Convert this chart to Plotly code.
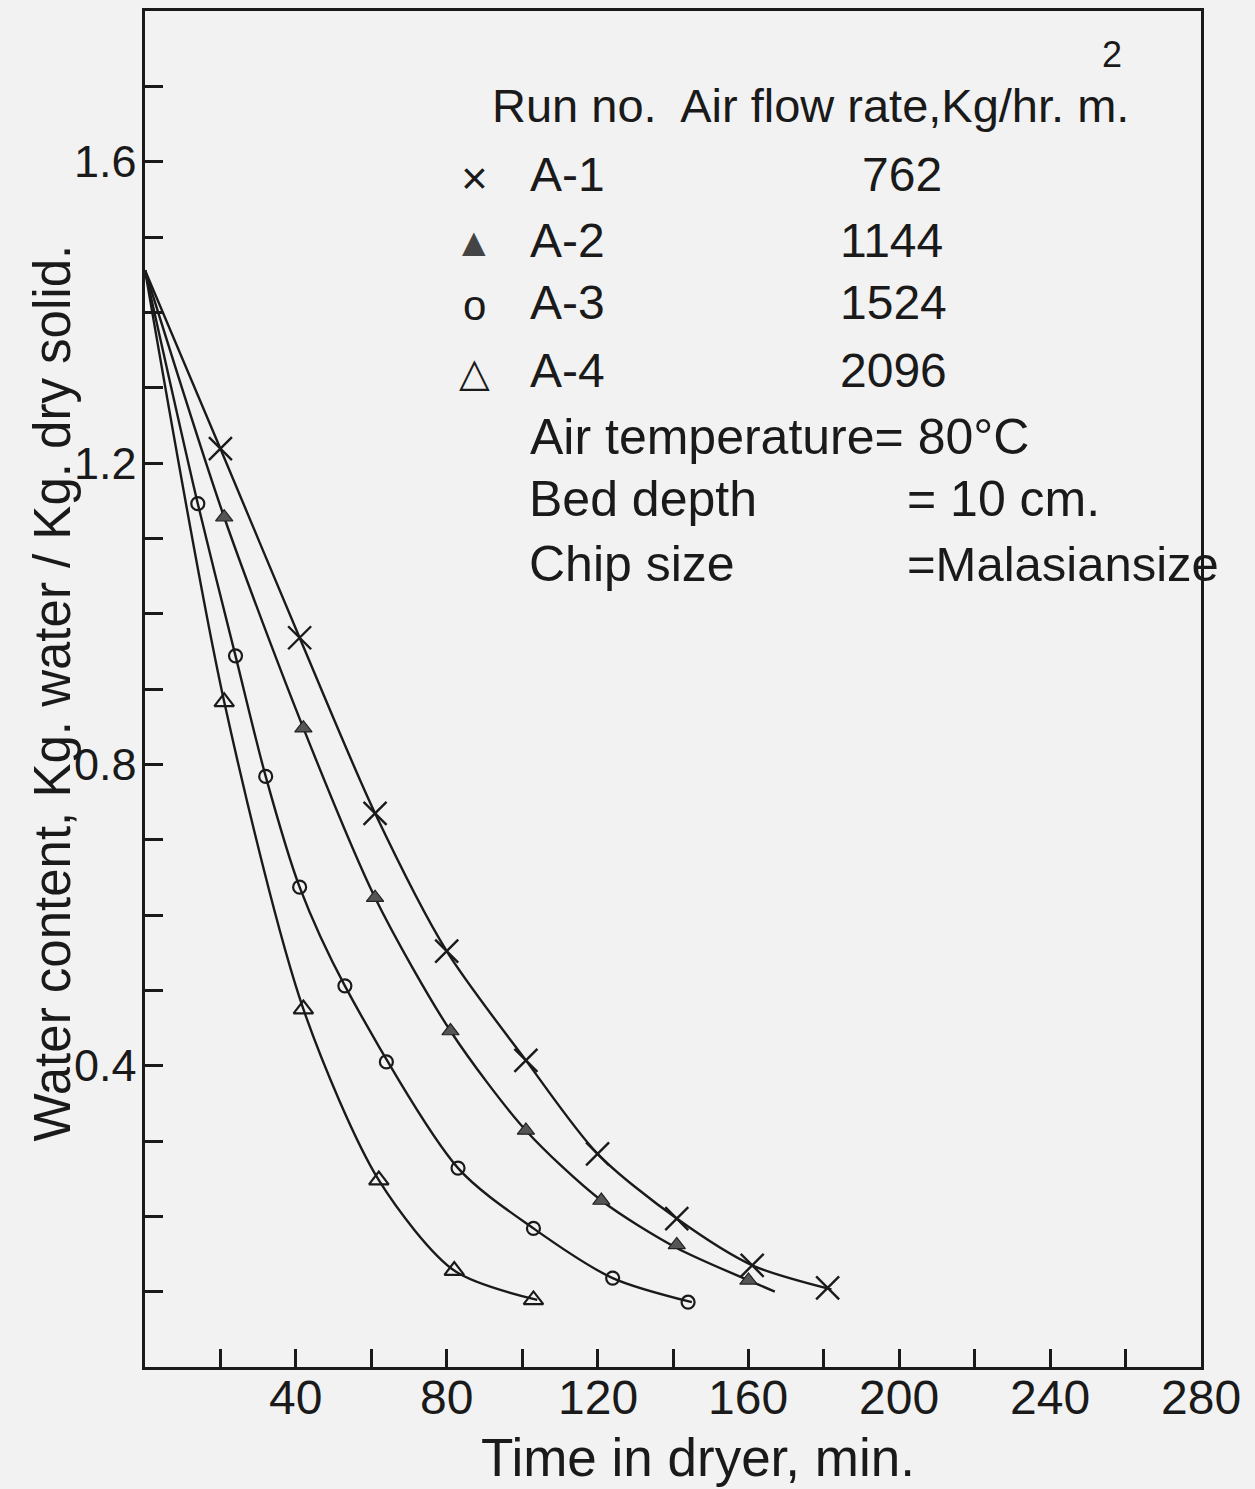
import plotly.graph_objects as go

# ---------------- data ----------------
# measured points (time in min, water content kg water / kg dry solid)
a1_t = [20, 41, 61, 80, 101, 120, 141, 161, 181]
a1_w = [1.219, 0.968, 0.735, 0.552, 0.407, 0.283, 0.197, 0.135, 0.105]

a2_t = [21, 42, 61, 81, 101, 121, 141, 160]
a2_w = [1.128, 0.848, 0.623, 0.446, 0.314, 0.221, 0.162, 0.115]

a3_t = [14, 24, 32, 41, 53, 64, 83, 103, 124, 144]
a3_w = [1.146, 0.944, 0.784, 0.637, 0.506, 0.405, 0.264, 0.184, 0.118, 0.086]

a4_t = [21, 42, 62, 82, 103]
a4_w = [0.883, 0.475, 0.248, 0.128, 0.089]

# drawn (fitted) curves
c1_t = [0, 20, 41, 61, 80, 101, 120, 141, 161, 182]
c1_w = [1.456, 1.219, 0.968, 0.735, 0.552, 0.407, 0.283, 0.197, 0.135, 0.103]

c2_t = [0, 21, 42, 61, 81, 101, 121, 141, 161, 167]
c2_w = [1.456, 1.128, 0.848, 0.623, 0.446, 0.314, 0.221, 0.158, 0.113, 0.100]

c3_t = [0, 14, 24, 32, 41, 53, 83, 103, 124, 145]
c3_w = [1.456, 1.146, 0.944, 0.784, 0.637, 0.506, 0.264, 0.184, 0.118, 0.086]

c4_t = [0, 21, 42, 62, 82, 104]
c4_w = [1.456, 0.883, 0.475, 0.248, 0.128, 0.089]

x_ticks = [40, 80, 120, 160, 200, 240, 280]
x_tick_text = ["40", "80", "120", "160", "200", "240", "280"]
y_ticks = [0.4, 0.8, 1.2, 1.6]
y_tick_text = ["0.4", "0.8", "1.2", "1.6"]

runs = ["A-1", "A-2", "A-3", "A-4"]
flow_rates = ["762", "1144", "1524", "2096"]

# ---------------- figure ----------------
W, H = 1255, 1489
L, R, T, B = 145, 54, 8, 122
PW, PH = W - L - R, H - T - B
INK = "#1a1a1a"
FONT = "Liberation Sans"
BG = "#f2f2f2"


def px(x):
    return (x - L) / PW


def py(y):
    return (H - B - y) / PH


fig = go.Figure()

line_style = dict(color=INK, width=2.4, shape="spline", smoothing=0.8)
for ct, cw in [(c1_t, c1_w), (c2_t, c2_w), (c3_t, c3_w), (c4_t, c4_w)]:
    fig.add_trace(go.Scatter(x=ct, y=cw, mode="lines", line=line_style,
                             hoverinfo="skip", showlegend=False))

fig.add_trace(go.Scatter(x=a1_t, y=a1_w, mode="markers", name=runs[0],
                         marker=dict(symbol="x-thin", size=23,
                                     line=dict(color=INK, width=2.4)),
                         showlegend=False))
fig.add_trace(go.Scatter(x=a2_t, y=a2_w, mode="markers", name=runs[1],
                         marker=dict(symbol="triangle-up", size=15, color="#555555",
                                     line=dict(color="#222222", width=1.2)),
                         showlegend=False))
fig.add_trace(go.Scatter(x=a3_t, y=a3_w, mode="markers", name=runs[2],
                         marker=dict(symbol="circle-open", size=13,
                                     line=dict(color=INK, width=2.2), color=INK),
                         showlegend=False))
fig.add_trace(go.Scatter(x=a4_t, y=a4_w, mode="markers", name=runs[3],
                         marker=dict(symbol="triangle-up-open", size=17,
                                     line=dict(color=INK, width=2.2), color=INK),
                         showlegend=False))

ann = []


def text(s, x, y, size=48, xanchor="left", angle=0, color=INK):
    ann.append(dict(text=s, x=px(x), y=py(y), xref="paper", yref="paper",
                    xanchor=xanchor, yanchor="middle", showarrow=False,
                    textangle=angle, font=dict(family=FONT, size=size, color=color)))


# legend block (text inside plot)
text("Run no.  Air flow rate,Kg/hr. m.", 490, 103, size=47)
text("2", 1112, 52, size=36, xanchor="center")
sym_y = [175, 240, 303, 370]
row_y = [172, 238, 300, 368]
syms = ["×", "▲", "o", "△"]
sym_sizes = [46, 40, 42, 40]
sym_cols = [INK, "#444444", INK, INK]
num_x = [860, 838, 838, 838]
for i in range(4):
    text(syms[i], 474, sym_y[i], size=sym_sizes[i], xanchor="center", color=sym_cols[i])
    text(runs[i], 528, row_y[i])
    text(flow_rates[i], num_x[i], row_y[i])
text("Air temperature= 80°C", 528, 435, size=50)
text("Bed depth", 527, 497, size=50)
text("= 10 cm.", 905, 497, size=50)
text("Chip size", 527, 562, size=50)
text("=Malasiansize", 905, 562, size=49)

# tick labels placed on the axes' own scales
for v, s in zip(x_ticks, x_tick_text):
    ann.append(dict(text=s, x=v, y=py(1398), xref="x", yref="paper",
                    xanchor="center", yanchor="middle", showarrow=False,
                    font=dict(family=FONT, size=48, color=INK)))
for v, s in zip(y_ticks, y_tick_text):
    ann.append(dict(text=s, x=px(139), y=v, xref="paper", yref="y",
                    xanchor="right", yanchor="middle", showarrow=False,
                    font=dict(family=FONT, size=45, color=INK)))

# axis titles
text("Time in dryer, min.", 698, 1458, size=53, xanchor="center")
ann.append(dict(text="Water content, Kg. water / Kg. dry solid.", x=px(52), y=py(692),
                xref="paper", yref="paper", xanchor="center", yanchor="middle",
                showarrow=False, textangle=-90,
                font=dict(family=FONT, size=51, color=INK)))

axis_common = dict(showline=True, mirror=True, linecolor=INK, linewidth=3,
                   showgrid=False, zeroline=False, ticks="inside", ticklen=18,
                   tickwidth=2.5, tickcolor=INK, showticklabels=False)

fig.update_layout(
    width=W, height=H,
    margin=dict(l=L, r=R, t=T, b=B),
    paper_bgcolor=BG, plot_bgcolor=BG,
    annotations=ann,
    showlegend=False,
    xaxis=dict(range=[0, 280], tickmode="array", tickvals=x_ticks,
               minor=dict(dtick=20, tick0=0, ticks="inside", ticklen=18, tickwidth=2.5,
                          tickcolor=INK, showgrid=False),
               **axis_common),
    yaxis=dict(range=[0, 1.8], tickmode="array", tickvals=y_ticks,
               minor=dict(dtick=0.1, tick0=0, ticks="inside", ticklen=18, tickwidth=2.5,
                          tickcolor=INK, showgrid=False),
               **axis_common),
)

fig.write_html("out.html")
